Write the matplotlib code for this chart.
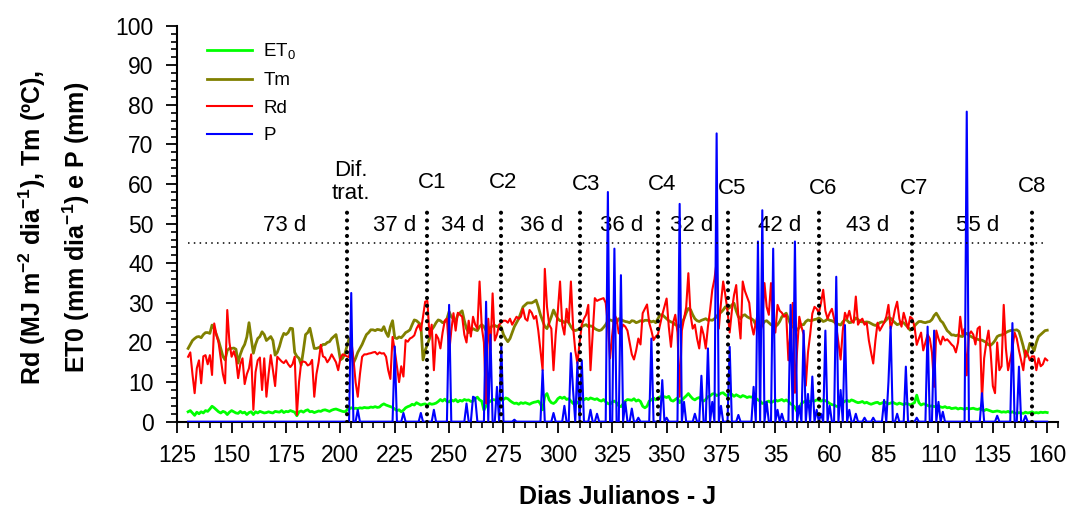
import numpy as np
import matplotlib
matplotlib.use("Agg")
import matplotlib.pyplot as plt

plt.rcParams['font.family'] = ['Liberation Sans', 'DejaVu Sans']
plt.rcParams['mathtext.fontset'] = 'custom'
plt.rcParams['mathtext.rm'] = 'Liberation Sans'
plt.rcParams['mathtext.bf'] = 'Liberation Sans:bold'

# dias julianos contínuos (366.. = ano seguinte)
first_day = 130

tm = [
    18.5, 19.5, 20.5, 21, 21.4, 21.5, 21.2, 22, 22.5, 22.5,
    22.3, 24.4, 23.5, 22, 20.5, 18.5, 16.5, 15.6, 18, 18.5,
    18.5, 18.6, 18.3, 14.8, 17, 18.5, 19.5, 21.4, 25, 21,
    17.3, 19.5, 21, 21.5, 22.7, 22, 20.5, 21, 21.5, 20.5,
    16.8, 17.5, 19, 21, 22.3, 22, 22.5, 23.6, 23.5, 17.5,
    16.5, 16, 14.3, 18, 22, 22.5, 23.6, 21, 18.5, 18.5,
    18.7, 19, 19.5, 19.5, 20, 20.2, 21, 21.5, 22, 19,
    15.6, 16, 17, 19, 21, 18.5, 14.8, 16, 17.5, 18.5,
    19.5, 20.8, 22, 22.5, 23.2, 23.2, 23, 23.3, 23.2, 23,
    24, 22.5, 21.5, 24, 25.5, 21.2, 21, 21.4, 21.2, 21.8,
    22.5, 22.8, 23.2, 24.5, 25.7, 25.5, 25, 24.5, 15.6, 18,
    19.5, 21, 23.2, 24, 25, 25.7, 25.5, 25, 25.2, 26,
    27.8, 26.5, 26, 25.5, 27, 27.5, 28, 25.5, 23.5, 22.5,
    23, 23.5, 23.2, 23, 24, 24.5, 24, 23, 23.2, 23.8,
    24.2, 24.3, 24, 24.3, 23.8, 22, 21, 20.2, 21, 22.5,
    24, 25, 26, 27.5, 29, 29.5, 30, 30, 30, 30.3,
    30.7, 29, 27, 25.5, 24, 23.5, 25, 26.5, 28.2, 27,
    26, 25.5, 25.5, 25, 25.5, 25, 24, 23.2, 23, 23.2,
    23.5, 24, 24.3, 24.5, 24, 24.2, 24, 23.5, 23.2, 23,
    23.2, 23.8, 24.5, 25.5, 25.7, 25.5, 25.2, 25, 26, 25.8,
    25.5, 25.3, 25.2, 25, 25.5, 25.4, 25, 25.2, 25.5, 25.3,
    25.6, 25.6, 25.5, 25.2, 25.4, 25, 26, 27, 27, 26.5,
    26, 25.5, 25.2, 25, 24.5, 24.2, 24, 25, 26, 27.5,
    28.6, 28.3, 27, 26, 25.5, 25.3, 25.6, 25.8, 26, 25.6,
    25.7, 25.6, 26, 26.5, 27.4, 27.6, 28.2, 29, 28.5, 28.8,
    29.5, 29.9, 28, 26.5, 26, 26.8, 27, 26.5, 26.2, 26,
    25.6, 24.5, 24, 23.6, 24.5, 25.3, 25.5, 25, 24.5, 24.2,
    24, 24.5, 25.3, 26.5, 27, 27.4, 26, 24.5, 24, 23.5,
    23.1, 23.8, 24.5, 24.5, 25.3, 25.7, 25.5, 25.6, 25.8, 25.9,
    26.2, 25.8, 25.3, 25.5, 25.9, 25.6, 25.5, 25.2, 24.8, 24.6,
    24.4, 25.2, 25.8, 25.6, 25, 25.1, 25.5, 26.2, 25.8, 25.3,
    25.2, 25.1, 25.2, 25.1, 24.8, 24.5, 24.3, 24.6, 25, 25.2,
    25.1, 25.7, 26.3, 26.1, 25.5, 25, 24.5, 24.7, 25.1, 25,
    24.4, 23.8, 23.1, 23.4, 24.2, 24.8, 25.3, 25.3, 25.1, 25,
    25.2, 25.3, 25.8, 26.8, 27.4, 26.5, 25.5, 25, 24, 23,
    22.5, 21.9, 21.9, 21.7, 21.9, 21.6, 21.5, 22, 22.3, 21.8,
    21.5, 21.2, 21, 20.8, 20.6, 20.6, 20.3, 20, 19.4, 19.3,
    19.8, 20.5, 21.5, 21.8, 21.9, 22.1, 22.5, 22.8, 23, 23.1,
    23.1, 23.2, 22.8, 21, 19, 16.4, 17.5, 19.8, 19, 17.9,
    20, 21.5, 22, 22.5, 23, 23.1,
]

rd = [
    16.4, 17.5, 12, 7.2, 13.5, 15.5, 9.7, 16.5, 16.8, 14.5,
    16.8, 11.8, 24.8, 22, 20, 16, 12, 9.7, 28.2, 20,
    16.4, 17.8, 16, 11, 14.5, 16, 9.5, 12, 13.5, 17,
    3, 12.5, 15.5, 16.2, 8, 16, 6.3, 12, 16.8, 13,
    9, 16.4, 15.8, 15.2, 14.8, 15.5, 14.5, 13.8, 14.5, 16.4,
    1.7, 10, 15, 15.2, 15, 14.2, 14.5, 15.6, 6.3, 12,
    15, 19.4, 16.5, 16.2, 15, 15.8, 17, 16, 15, 13,
    16, 17, 16.8, 16.5, 16.3, 20.6, 16, 10, 6.3, 12,
    16.4, 17, 17, 17.2, 17.3, 17.5, 17.6, 17, 17.5, 17.2,
    17.3, 16.4, 13, 10.8, 21.4, 18, 14, 10, 14, 11.4,
    20.6, 20.2, 21, 21.3, 21.8, 23.5, 24.5, 23, 26.5, 30.3,
    30.5, 21.5, 24.5, 13, 22, 21, 18.5, 22.5, 25.5, 26,
    17.3, 23, 27.4, 23, 27.5, 27, 26.5, 22, 20, 25.5,
    21.5, 26.5, 24.5, 23.5, 35.4, 24, 20, 4.6, 26, 18,
    32.4, 20.5, 22, 24.5, 25, 25.5, 25.5, 25, 26, 24.5,
    25.5, 26.5, 26, 26.5, 28.5, 26, 25.5, 28.2, 27.5, 26,
    26.7, 23, 18, 13, 38.6, 29, 24.5, 23.5, 13, 22,
    28, 35.4, 24.5, 22, 28.5, 25, 35.4, 24, 18, 14.7,
    20, 24.5, 26, 27, 29.5, 13, 22, 31.2, 30.5, 30.8,
    31, 31.2, 30, 24.5, 16, 22, 27, 26, 22.3, 23,
    24.5, 24, 23, 20, 17, 15.7, 18, 21, 19.5, 27.4,
    28.5, 29.6, 25, 23, 20.6, 21.5, 22, 24.5, 27, 29,
    31.1, 24, 18.9, 25, 27, 22.5, 6.3, 23, 26, 28.9,
    37.5, 27, 23.5, 24.5, 21, 18.5, 24, 22, 18.5, 24,
    28.2, 33.3, 36, 40.4, 23.5, 30, 35.4, 32, 28, 22.5,
    28, 32, 34.5, 26.5, 21, 35.4, 33, 31.5, 30, 24.5,
    22, 25, 27.4, 22, 25, 35, 29, 27, 35, 25,
    22.5, 29.5, 28, 27.5, 26.5, 27, 15.5, 23, 30, 7.3,
    18, 26.5, 24, 22, 9.1, 17.5, 22, 27.3, 29, 28.5,
    27.5, 30, 33.3, 28, 26, 27.5, 28.5, 26, 24, 20,
    15.7, 23, 27.5, 26, 28, 25.5, 25, 31.6, 24.5, 25.5,
    26, 24.5, 25, 20.5, 17.5, 14.7, 20.5, 25, 23, 24,
    25, 26.5, 29.5, 23.5, 25.5, 28.3, 30.3, 26, 24, 27.5,
    25.5, 23.5, 26.5, 26, 24, 19.4, 21, 22.5, 18, 20,
    22, 21, 17.5, 8.8, 23, 21, 19.5, 21.5, 20.5, 20.8,
    20.2, 19.5, 19, 17.5, 20, 26.5, 22, 23.5, 11.7, 22,
    22.8, 22, 19.5, 23.5, 24, 5.5, 16, 20, 23, 17.5,
    9, 7.2, 20, 13, 14, 29.5, 18.5, 13, 15.8, 18.5,
    22.5, 21, 18, 15.5, 13, 18, 17, 15.5, 16.5, 16.5,
    13, 16, 14, 14.5, 16, 15.5,
]

et0 = [
    2.5, 2.8, 2.2, 1.6, 2.4, 2, 2.5, 2.2, 2.8, 2.6,
    3.2, 3.9, 3.5, 3, 2.5, 2.2, 2.6, 2.4, 1.8, 2.4,
    2.8, 2.5, 2.2, 2.1, 2.6, 2.2, 2.4, 1.8, 2.3, 2.5,
    1.8, 2.5, 2.2, 2.6, 2.4, 2.2, 2.3, 2.5, 2.3, 2.2,
    2.6, 2.5, 2.4, 2.8, 2.3, 2.6, 2.5, 2.8, 2.6, 2.4,
    1.5, 2.5, 2.7, 2.4, 2.8, 3, 2.5, 2.6, 2.3, 2.5,
    2.7, 2.6, 2.9, 3, 2.8, 2.6, 2.9, 3.1, 3.2, 3,
    2.8, 2.6, 2.5, 2.9, 3.2, 3.5, 3.3, 3.4, 3.3, 3.5,
    3.4, 3.6, 3.5, 3.5, 3.7, 3.6, 3.8, 3.6, 3.7, 4.2,
    4.5, 4.2, 4, 3.8, 3.6, 3.2, 2.8, 3, 2.5, 2.9,
    3.5, 3.8, 4, 4.4, 4.2, 4.8, 4.5, 4.2, 4.4, 4.5,
    4.1, 4.6, 4.4, 4.5, 4.7, 5.1, 5.6, 5.2, 5.7, 5.1,
    5, 5.5, 5.2, 5.6, 5, 5.4, 5.2, 5.6, 5.4, 5.5,
    5.1, 5.2, 5.8, 6.2, 5.5, 5.2, 2.9, 4, 4.8, 5.2,
    5.6, 5.5, 5.3, 5.7, 5.4, 5.6, 6, 5.8, 5.3, 4.9,
    4.6, 4.7, 4.4, 4.8, 4.6, 4.8, 4.6, 4.4, 4.7, 4.9,
    5, 5.2, 4.5, 3, 6.5, 7.1, 5.5, 4.8, 4.6, 5,
    5.8, 6.2, 5.9, 6.2, 5.6, 5.8, 5.2, 4.6, 4.4, 4.8,
    5.3, 5.8, 5.5, 5.9, 5.6, 6, 5.8, 5.6, 5.8, 5.4,
    5.2, 5.6, 5, 4.6, 4.4, 5, 5.2, 4.8, 4, 3.8,
    4.5, 5.2, 5.6, 5.5, 5.4, 5.8, 5.2, 5.5, 5.1, 3.9,
    3.5, 3.9, 5.2, 5.5, 6, 5.5, 5.9, 6.3, 6.2, 6.3,
    6.1, 6.4, 5.4, 5.2, 5.6, 6, 4.8, 5.4, 6, 6.5,
    7.1, 6.4, 5.8, 5.5, 5.9, 6.1, 5.5, 5.2, 5.6, 6.3,
    6.5, 7, 7.1, 6.6, 6.8, 7.2, 7.3, 6.8, 6.5, 7.1,
    6.9, 6.4, 6.8, 6.5, 6.2, 6.6, 6.4, 6.1, 6.3, 6.2,
    6.3, 5.9, 5.5, 5.2, 4.6, 4.8, 5, 5.2, 4.8, 5.1,
    5.5, 5.2, 5.4, 5.6, 5.2, 5.5, 5.1, 4.5, 4.2, 3.6,
    2.5, 3.5, 4.6, 5, 5.2, 5.3, 5, 5.4, 5.2, 5.5,
    5.4, 5.2, 5.5, 5.3, 5, 4.6, 4.3, 4.2, 3.9, 3.8,
    4.6, 4.8, 5.2, 5.4, 5.1, 5.5, 5.3, 5, 4.8, 4.9,
    5.1, 4.7, 4.9, 4.6, 4.4, 4.6, 4.8, 4.9, 4.5, 4.7,
    5, 4.8, 4.5, 4.7, 4.9, 4.6, 4.4, 4.7, 4.5, 4.3,
    4.6, 4.5, 4.2, 4.5, 4.8, 6.7, 4.8, 4.2, 4.5, 4.4,
    4.1, 3.9, 4, 3.8, 3.9, 4, 3.7, 3.6, 3.8, 3.5,
    3.6, 3.3, 3.4, 3.5, 3.2, 3.4, 3.3, 3.1, 3.4, 3.2,
    3.3, 3.4, 3.2, 3.1, 3.3, 3, 2.8, 3.1, 2.9, 2.7,
    2.5, 2.6, 2.7, 2.6, 2.4, 2.5, 2.4, 2.6, 2.3, 2.5,
    2.2, 2.1, 2.3, 2.2, 2.1, 2.4, 2.2, 2.3, 2.5, 2.2,
    2.3, 2.2, 2.4, 2.3, 2.4, 2.3,
]

# chuva: só os dias com P > 0
rain_days = [205, 208, 225, 229, 237, 243, 250, 258, 261, 262, 267, 269, 272,
             274, 280, 293, 298, 303, 306, 307, 309, 311, 315, 318, 323, 326,
             329, 331, 334, 337, 343, 348, 350, 356, 358, 363, 366, 369, 371,
             373, 375, 379, 383, 390, 392, 394, 396, 399, 401, 403, 407, 409,
             411, 413, 415, 417, 419, 421, 423, 425, 428, 430, 432, 434, 437,
             441, 445, 450, 452, 453, 456, 460, 465, 470, 473, 475, 477, 488,
             495, 502, 509, 512, 515]
rain_mm = [32.5, 3, 19, 2.2, 2.2, 3, 29.5, 4.6, 6.3, 6, 30.3, 22, 8.8,
           19.6, 0.5, 13, 2.2, 4, 17.3, 7.9, 15, 15.5, 3, 2, 58, 43.7,
           37, 5, 3.3, 1, 21, 10.5, 1, 55, 5, 2, 11.6, 18.5, 5,
           72.8, 4, 18.9, 1.7, 8.8, 45.5, 53.4, 5, 43.7, 3, 2, 29.5, 45.5,
           4, 23, 7, 11.4, 3, 2, 23, 4, 36.6, 8, 24.4, 3, 2,
           1, 1, 5.5, 10, 24, 2, 13.9, 1, 24, 23, 5, 2.5, 78.3,
           7.2, 1.5, 24.9, 13.9, 1.5]

# cortes e intervalos
cut_days = [203, 240, 274, 310, 346, 378, 420, 463, 518]
cut_labels = ['Dif.\ntrat.', 'C1', 'C2', 'C3', 'C4', 'C5', 'C6', 'C7', 'C8']
cut_label_x = [205, 242, 275, 313, 348, 380, 422, 464, 518]
cut_label_y = [60.5, 60.5, 60.5, 60, 60, 59, 59, 59, 59.5]
interval_text = ['73 d', '37 d', '34 d', '36 d', '36 d', '32 d', '42 d', '43 d', '55 d']
interval_x = [174.5, 225, 256, 292.5, 329.5, 361.5, 402, 442.5, 493]

days = np.arange(first_day, first_day + len(tm))
p = np.zeros(len(days))
for d, v in zip(rain_days, rain_mm):
    p[d - first_day] = v

fig = plt.figure(figsize=(10.69, 5.12), dpi=100)
ax = fig.add_axes([0.1658, 0.1764, 0.824, 0.7734])

ax.plot(days, et0, color='#00FF00', lw=2.0, label='ET$_0$', zorder=3)
ax.plot(days, tm, color='#808000', lw=2.0, label='Tm', zorder=2)
ax.plot(days, rd, color='#FF0000', lw=1.5, label='Rd', zorder=3)
ax.plot(days, p, color='#0000FF', lw=1.5, label='P', zorder=4)

ax.plot([days[0], days[-1]], [45, 45], color='black', lw=1.1,
        dashes=(1, 2.8), zorder=5)
for d in cut_days:
    ax.plot([d, d], [0, 53.5], color='black', lw=3.0, dashes=(0.01, 1.85),
            dash_capstyle='round', zorder=6)

for x, y, t in zip(cut_label_x, cut_label_y, cut_labels):
    ax.text(x, y, t, ha='center', va='center', fontsize=16, linespacing=1.1)
for x, t in zip(interval_x, interval_text):
    ax.text(x, 49.5, t, ha='center', va='center', fontsize=16)

ax.set_xlim(125, 530)
ax.set_ylim(0, 100)
xt = np.arange(125, 526, 25)
ax.set_xticks(xt)
# o gráfico original rotula 375 e depois passa para 35, 60, ...
ax.set_xticklabels([str(v if v <= 375 else v - 365) for v in xt])
ax.set_xticks(np.arange(125, 531, 5), minor=True)
ax.set_yticks(np.arange(0, 101, 10))
ax.set_yticks(np.arange(0, 101, 2), minor=True)
ax.tick_params(which='major', length=8, width=1.3, labelsize=16.5, pad=8)
ax.tick_params(which='minor', length=4, width=1.2)
ax.tick_params(axis='y', which='major', pad=9)
for s in ['top', 'right']:
    ax.spines[s].set_visible(False)
for s in ['left', 'bottom']:
    ax.spines[s].set_linewidth(1.5)

ax.set_xlabel('Dias Julianos - J', fontsize=18, fontweight='bold', labelpad=13)
fig.text(0.051, 0.555,
         'Rd (MJ m$^{\\mathbf{-2}}$ dia$^{\\mathbf{-1}}$), Tm (ºC),\n'
         'ET0 (mm dia$^{\\mathbf{-1}}$) e P (mm)',
         rotation=90, ha='center', va='center', fontsize=18,
         fontweight='bold', linespacing=1.5, multialignment='center')

ax.legend(loc='upper left', bbox_to_anchor=(0.034, 0.96), frameon=False,
          fontsize=13.5, handlelength=2.4, handletextpad=0.6,
          labelspacing=0.55, borderpad=0, borderaxespad=0)

fig.savefig('out.png', dpi=100)
